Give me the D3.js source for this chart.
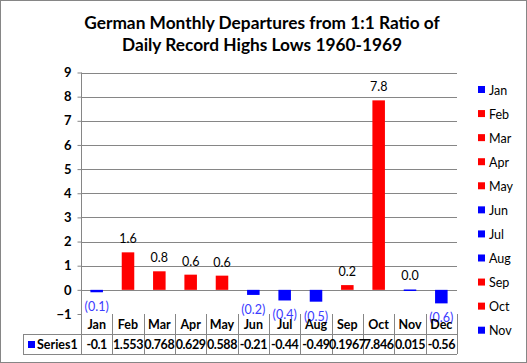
<!DOCTYPE html>
<html><head><meta charset="utf-8">
<script src="https://cdn.jsdelivr.net/npm/d3@7"></script>
<style>body{margin:0;background:#fff}svg{display:block}text{font-family:Lato,"Open Sans",sans-serif}</style>
</head><body>
<script>
const months = ["Jan","Feb","Mar","Apr","May","Jun","Jul","Aug","Sep","Oct","Nov","Dec"];
const values = [-0.1,1.553,0.768,0.629,0.588,-0.21,-0.44,-0.49,0.1967,7.846,0.015,-0.56];
const tableLabels = ["-0.1","1.553","0.768","0.629","0.588","-0.21","-0.44","-0.49","0.1967","7.846","0.015","-0.56"];
const barColors = ["blue","red","red","red","red","blue","blue","blue","red","red","blue","blue"];
const yTicks = [-1,0,1,2,3,4,5,6,7,8,9];
const titleLines = ["German Monthly Departures from 1:1 Ratio of","Daily Record Highs Lows 1960-1969"];
const seriesName = "Series1";

const W=527,H=363;
const svg=d3.select("body").append("svg").attr("width",W).attr("height",H);
svg.append("rect").attr("x",0.5).attr("y",0.5).attr("width",W-1).attr("height",H-1).attr("fill","#fff").attr("stroke","#868686");

const colorMap={red:"#ff0000",blue:"#0000ff"};
const x=d3.scaleBand().domain(months).range([81,457]).paddingInner(0.6).paddingOuter(0.3);
const band=d3.scaleBand().domain(months).range([81,457]);
const y=d3.scaleLinear().domain([-1,9]).range([314,72.5]);

// title
svg.append("g").selectAll("text").data(titleLines).join("text")
  .attr("x",262).attr("y",(d,i)=>29+i*22).attr("text-anchor","middle")
  .attr("font-size",17.3).attr("font-weight","bold").attr("fill","#000").text(d=>d);

// gridlines
svg.append("g").selectAll("line").data(yTicks.filter(t=>t>-1)).join("line")
  .attr("x1",81).attr("x2",457).attr("y1",d=>Math.round(y(d))+0.5).attr("y2",d=>Math.round(y(d))+0.5)
  .attr("stroke","#868686").attr("stroke-width",1);

// y axis
const ya=svg.append("g").attr("transform","translate(81.5,0)")
  .call(d3.axisLeft(y).tickValues(yTicks).tickSize(4).tickPadding(6).tickFormat(d3.format("d")));
ya.select(".domain").attr("stroke","#868686").attr("d","M0,72.5V314");
ya.selectAll(".tick line").attr("stroke","#868686");
ya.selectAll(".tick text").attr("font-size",13).attr("font-weight","bold").attr("fill","#000")
  .attr("font-family","Lato,sans-serif");

// bars
svg.append("g").selectAll("rect").data(values).join("rect")
  .attr("x",(d,i)=>x(months[i])).attr("width",x.bandwidth())
  .attr("y",d=>y(Math.max(0,d))).attr("height",d=>Math.max(1.5,Math.abs(y(d)-y(0))))
  .attr("fill",(d,i)=>colorMap[barColors[i]]);

// data labels
svg.append("g").selectAll("text").data(values).join("text")
  .attr("x",(d,i)=>band(months[i])+band.bandwidth()/2)
  .attr("y",d=>d>=0? y(d)-9 : y(d)+19)
  .attr("text-anchor","middle").attr("font-size",12.5)
  .attr("fill",d=>d>=0?"#000":"#3c3cff")
  .text(d=>d>=0? d3.format(".1f")(d) : "("+d3.format(".1f")(-d)+")");

// table
const tg=svg.append("g");
const rowTop=314,rowMid=334,rowBot=354;
const gridC="#868686";
tg.append("line").attr("x1",23).attr("x2",457).attr("y1",rowMid+0.5).attr("y2",rowMid+0.5).attr("stroke",gridC);
tg.append("line").attr("x1",23).attr("x2",457).attr("y1",rowBot+0.5).attr("y2",rowBot+0.5).attr("stroke",gridC);
tg.append("line").attr("x1",23.5).attr("x2",23.5).attr("y1",rowMid).attr("y2",rowBot).attr("stroke",gridC);
tg.append("line").attr("x1",81.5).attr("x2",81.5).attr("y1",rowTop).attr("y2",rowBot).attr("stroke",gridC);
tg.selectAll("line.v").data(months).join("line").attr("class","v")
  .attr("x1",d=>Math.round(band(d)+band.bandwidth())+0.5).attr("x2",d=>Math.round(band(d)+band.bandwidth())+0.5)
  .attr("y1",rowTop).attr("y2",rowBot).attr("stroke",gridC);
tg.selectAll("text.c").data(months).join("text").attr("class","c")
  .attr("x",d=>band(d)+band.bandwidth()/2).attr("y",329).attr("text-anchor","middle")
  .attr("font-size",12.5).attr("font-weight","bold").attr("fill","#000").text(d=>d);
tg.selectAll("text.v").data(tableLabels).join("text").attr("class","v")
  .attr("x",(d,i)=>band(months[i])+band.bandwidth()/2).attr("y",349).attr("text-anchor","middle")
  .attr("font-size",12.5).attr("font-weight","bold").attr("fill","#000")
  .attr("letter-spacing",-0.4).text(d=>d);
tg.append("rect").attr("x",28).attr("y",341).attr("width",7).attr("height",7).attr("fill","#0000ff");
tg.append("text").attr("x",37).attr("y",349).attr("font-size",12.5).attr("font-weight","bold").attr("fill","#000").text(seriesName);

// legend (Dec overflows and is not shown)
const legendItems=months.slice(0,11);
const lg=svg.append("g").selectAll("g").data(legendItems).join("g")
  .attr("transform",(d,i)=>`translate(478,${90+i*24.07})`);
lg.append("rect").attr("x",0).attr("y",-4).attr("width",7).attr("height",7).attr("fill",(d,i)=>colorMap[barColors[i]]);
lg.append("text").attr("x",11).attr("y",4.5).attr("font-size",12.5).attr("fill","#000").text(d=>d);
</script>
</body></html>
